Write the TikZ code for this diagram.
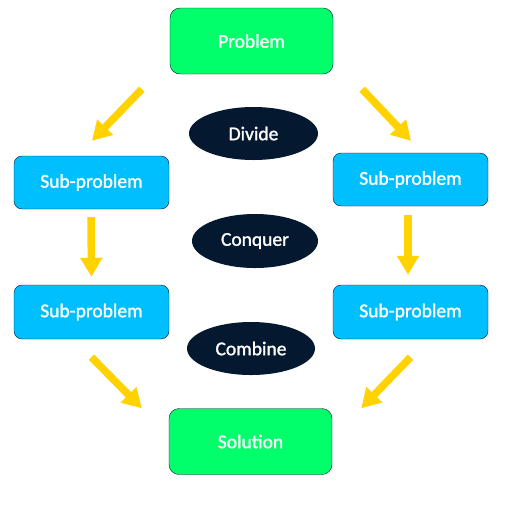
\documentclass[tikz,border=0pt]{standalone}
\usepackage{fontspec}
\setmainfont{Carlito}
\newfontfamily\labelfont[FakeBold=1.4]{Carlito}
\usepackage{tikz}
\usetikzlibrary{shapes.geometric, arrows.meta, positioning}
\definecolor{startcolor}{RGB}{0, 255, 106}
\definecolor{subcolor}{RGB}{0, 191, 255}
\definecolor{stepcolor}{RGB}{4, 25, 48}
\definecolor{flowcolor}{RGB}{255, 210, 0}

\begin{document}
\begin{tikzpicture}[
    x=1pt, y=-1pt,
    endbox/.style={draw=stepcolor, fill=startcolor, rounded corners=10pt, minimum width=163pt, minimum height=66pt, text=white, font=\labelfont\fontsize{19.5}{22}\selectfont, inner sep=0pt},
    subbox/.style={draw=stepcolor, fill=subcolor, rounded corners=8pt, minimum width=155pt, minimum height=53pt, text=white, font=\labelfont\fontsize{19.5}{22}\selectfont, inner sep=0pt},
    phase/.style={ellipse, fill=stepcolor, minimum width=128pt, minimum height=53pt, text=white, font=\labelfont\fontsize{19.5}{22}\selectfont, inner sep=0pt},
    flow/.style={-{Triangle[width=21pt, length=19pt]}, draw=flowcolor, line width=7.5pt}
]
    \useasboundingbox (0,0) rectangle (516,515);

    % Problem and solution
    \node[endbox] (prob) at (251.5, 41) {Problem};
    \node[endbox] (sol) at (250.5, 441.5) {Solution};

    % Sub-problems
    \node[subbox] (subA) at (91.5, 182.5) {Sub-problem};
    \node[subbox] (subB) at (410.5, 179.5) {Sub-problem};
    \node[subbox, minimum height=54pt] (subC) at (91.5, 312) {Sub-problem};
    \node[subbox, minimum height=54pt] (subD) at (410.5, 312) {Sub-problem};

    % Phases
    \node[phase, minimum width=129pt] (divide) at (253.5, 133.5) {Divide};
    \node[phase, minimum width=126pt, minimum height=54pt] (conquer) at (255, 241) {Conquer};
    \node[phase] (combine) at (251, 348.5) {Combine};

    % Arrows
    \draw[flow] ([shift={(-28,15)}]prob.south west) -- ([shift={(0.5,-15)}]subA.north);
    \draw[flow] ([shift={(29,15)}]prob.south east) -- ([shift={(0.5,-12)}]subB.north);
    \draw[flow] ([shift={(-0.5,8)}]subA.south) -- ([shift={(0,-8)}]subC.north);
    \draw[flow] ([shift={(-2.5,9)}]subB.south) -- ([shift={(-2.5,-10)}]subD.north);
    \draw[flow] ([shift={(0,18)}]subC.south) -- ([shift={(-27,0)}]sol.north west);
    \draw[flow] ([shift={(0,18)}]subD.south) -- ([shift={(29,0)}]sol.north east);

\end{tikzpicture}
\end{document}
